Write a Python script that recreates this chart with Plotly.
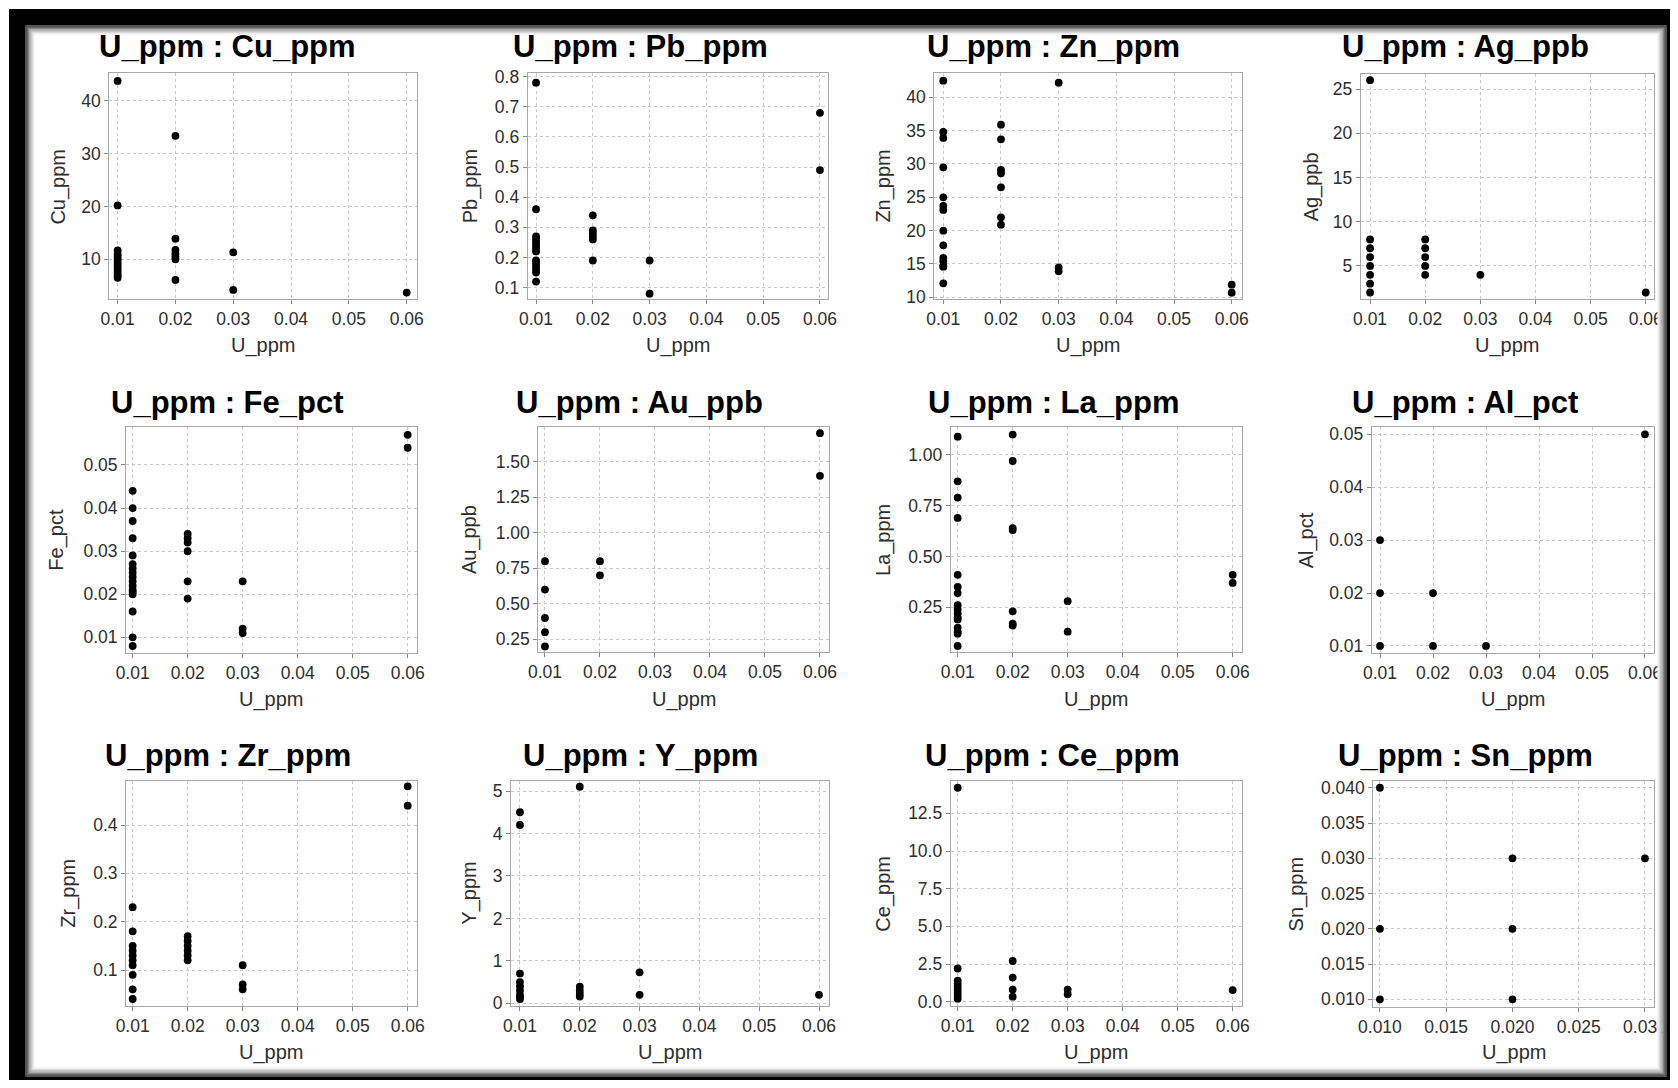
import plotly.graph_objects as go

VW, VH = 1678, 1088          # browser viewport
OFF = 8                      # default body margin of the html page
W, H = VW - 2 * OFF, VH - 2 * OFF

# ---------------- data ----------------
cu_x = [0.01]*13 + [0.02]*7 + [0.03]*2 + [0.06]
cu_y = [43.8, 20.2, 11.7, 11.0, 10.5, 10.0, 9.5, 9.0, 8.5, 8.0, 7.5, 7.0, 6.5,
        33.4, 13.9, 11.8, 11.1, 10.5, 10.0, 6.1,
        11.3, 4.2,
        3.7]

pb_x = [0.01]*14 + [0.02]*6 + [0.03]*2 + [0.06]*2
pb_y = [0.78, 0.36, 0.27, 0.26, 0.25, 0.24, 0.23, 0.22, 0.19, 0.18, 0.17, 0.16, 0.15, 0.12,
        0.34, 0.29, 0.28, 0.27, 0.26, 0.19,
        0.19, 0.08,
        0.68, 0.49]

zn_x = [0.01]*14 + [0.02]*7 + [0.03]*3 + [0.06]*2
zn_y = [42.5, 34.8, 33.9, 29.5, 25.0, 23.7, 23.1, 20.0, 17.8, 15.9, 15.4, 14.7, 14.6, 12.1,
        35.9, 33.7, 29.1, 28.6, 26.5, 22.0, 20.9,
        42.2, 14.5, 13.9,
        11.9, 10.7]

ag_x = [0.01]*8 + [0.02]*5 + [0.03] + [0.06]
ag_y = [26, 8, 7, 6, 5, 4, 3, 2,
        8, 7, 6, 5, 4,
        4,
        2]

fe_x = [0.01]*17 + [0.02]*6 + [0.03]*3 + [0.06]*2
fe_y = [0.044, 0.040, 0.037, 0.033, 0.029, 0.027, 0.026, 0.025, 0.024, 0.023, 0.022, 0.021, 0.020,
        0.016, 0.010, 0.008, 0.0205,
        0.034, 0.033, 0.032, 0.030, 0.023, 0.019,
        0.023, 0.012, 0.011,
        0.057, 0.054]

au_x = [0.01]*5 + [0.02]*2 + [0.06]*2
au_y = [0.8, 0.6, 0.4, 0.3, 0.2,
        0.8, 0.7,
        1.7, 1.4]

la_x = [0.01]*16 + [0.02]*7 + [0.03]*2 + [0.06]*2
la_y = [1.09, 0.87, 0.79, 0.69, 0.41, 0.35, 0.32, 0.26, 0.24, 0.22, 0.20, 0.19, 0.15, 0.13, 0.12, 0.06,
        1.10, 0.97, 0.64, 0.63, 0.23, 0.17, 0.16,
        0.28, 0.13,
        0.41, 0.37]

al_x = [0.01, 0.01, 0.01, 0.02, 0.02, 0.03, 0.06]
al_y = [0.03, 0.02, 0.01, 0.02, 0.01, 0.01, 0.05]

zr_x = [0.01]*10 + [0.02]*6 + [0.03]*3 + [0.06]*2
zr_y = [0.23, 0.18, 0.15, 0.14, 0.13, 0.12, 0.11, 0.09, 0.06, 0.04,
        0.17, 0.16, 0.15, 0.14, 0.13, 0.12,
        0.11, 0.07, 0.06,
        0.48, 0.44]

y_x = [0.01]*9 + [0.02]*5 + [0.03]*2 + [0.06]
y_y = [4.5, 4.2, 0.7, 0.5, 0.4, 0.3, 0.2, 0.15, 0.1,
       5.1, 0.39, 0.3, 0.22, 0.16,
       0.73, 0.2,
       0.2]

ce_x = [0.01]*9 + [0.02]*4 + [0.03]*2 + [0.06]
ce_y = [14.2, 2.2, 1.4, 1.2, 1.0, 0.8, 0.6, 0.4, 0.2,
        2.7, 1.6, 0.8, 0.33,
        0.8, 0.5,
        0.77]

sn_x = [0.01, 0.01, 0.01, 0.02, 0.02, 0.02, 0.03]
sn_y = [0.040, 0.020, 0.010, 0.030, 0.020, 0.010, 0.030]

titles = ["U_ppm : Cu_ppm", "U_ppm : Pb_ppm", "U_ppm : Zn_ppm", "U_ppm : Ag_ppb",
          "U_ppm : Fe_pct", "U_ppm : Au_ppb", "U_ppm : La_ppm", "U_ppm : Al_pct",
          "U_ppm : Zr_ppm", "U_ppm : Y_ppm", "U_ppm : Ce_ppm", "U_ppm : Sn_ppm"]
y_labels = ["Cu_ppm", "Pb_ppm", "Zn_ppm", "Ag_ppb", "Fe_pct", "Au_ppb",
            "La_ppm", "Al_pct", "Zr_ppm", "Y_ppm", "Ce_ppm", "Sn_ppm"]
x_label = "U_ppm"

xs = [cu_x, pb_x, zn_x, ag_x, fe_x, au_x, la_x, al_x, zr_x, y_x, ce_x, sn_x]
ys = [cu_y, pb_y, zn_y, ag_y, fe_y, au_y, la_y, al_y, zr_y, y_y, ce_y, sn_y]

# ---------------- layout (pixel geometry in viewport px) ----------------
boxes = [  # left, right, top, bottom
    (109.3, 416.7, 73.3, 299.3), (527.7, 828.3, 73.3, 299.3),
    (934.3, 1241.7, 73.3, 299.3), (1360.7, 1654.0, 74.0, 299.3),
    (126.0, 416.7, 427.3, 652.7), (538.3, 829.0, 427.3, 652.3),
    (950.7, 1241.7, 427.3, 652.3), (1371.7, 1654.0, 427.3, 653.3),
    (126.0, 416.7, 780.7, 1006.0), (511.0, 829.0, 780.7, 1006.0),
    (950.7, 1241.7, 780.7, 1006.0), (1373.3, 1654.0, 780.7, 1006.7),
]
x_ranges = [(0.00856, 0.06173), (0.00853, 0.06147), (0.00844, 0.06173), (0.0083, 0.0615),
            (0.00879, 0.06164), (0.00879, 0.06164), (0.00873, 0.06164), (0.00843, 0.0617),
            (0.00879, 0.06164), (0.0085, 0.06167), (0.00873, 0.06164), (0.0095, 0.03068)]
y_ranges = [(2.42, 45.24), (0.0613, 0.811), (9.7, 43.6), (1.23, 26.7),
            (0.00644, 0.05874), (0.1585, 1.7416), (0.0284, 1.136), (0.00861, 0.05132),
            (0.0255, 0.4917), (-0.063, 5.243), (-0.288, 14.668), (0.00896, 0.041)]
y_dticks = [10, 0.1, 5, 5, 0.01, 0.25, 0.25, 0.01, 0.1, 1, 2.5, 0.005]
y_formats = ["d", ".1f", "d", "d", ".2f", ".2f", ".2f", ".2f", ".1f", "d", ".1f", ".3f"]
x_dticks = [0.01]*11 + [0.005]
x_formats = [".2f"]*11 + [".3f"]
title_cx = [227.5, 640, 1053, 1465, 227.5, 639.5, 1053, 1465, 228, 640, 1052, 1465]
title_cy = [47, 47, 47, 47, 402, 402, 402, 402, 755, 755, 755, 755]
ylab_cx = [58.3, 470, 883.3, 1311.7, 56.7, 469.3, 883.3, 1306, 68.3, 469.3, 883.3, 1296.7]
xlab_cy = [345.7]*4 + [699.6]*4 + [1052.5]*4


def px(x):
    return (x - OFF) / W


def py(y):
    return 1 - (y - OFF) / H


FONT = "Arial, 'Liberation Sans', sans-serif"
TICKC = "#2e2e2e"

fig = go.Figure()
layout = dict(width=W, height=H, margin=dict(l=0, r=0, t=0, b=0, pad=0, autoexpand=False),
              paper_bgcolor="white", plot_bgcolor="white", showlegend=False,
              font=dict(family=FONT, color=TICKC))
annotations = []

for i in range(12):
    n = "" if i == 0 else str(i + 1)
    L, R, T, B = boxes[i]
    fig.add_trace(go.Scatter(x=xs[i], y=ys[i], mode="markers", xaxis="x" + n, yaxis="y" + n,
                             marker=dict(color="black", size=7.8), hoverinfo="x+y"))
    common = dict(showline=True, mirror=True, linecolor="#a8a8a8", linewidth=1,
                  showgrid=True, gridcolor="#c8c8c8", griddash="dot", gridwidth=1,
                  zeroline=False, ticks="outside", ticklen=4, tickcolor="#888888",
                  automargin=False,
                  tickfont=dict(family=FONT, size=17.5, color=TICKC))
    layout["xaxis" + n] = dict(common, domain=[px(L), px(R)], range=list(x_ranges[i]),
                               anchor="y" + n, tick0=0, dtick=x_dticks[i],
                               tickformat=x_formats[i])
    layout["yaxis" + n] = dict(common, domain=[py(B), py(T)], range=list(y_ranges[i]),
                               anchor="x" + n, tick0=0, dtick=y_dticks[i],
                               tickformat=y_formats[i])
    annotations.append(dict(text="<b>%s</b>" % titles[i], x=px(title_cx[i]), y=py(title_cy[i]),
                            xref="paper", yref="paper", xanchor="center", yanchor="middle",
                            showarrow=False, font=dict(family=FONT, size=31, color="black")))
    annotations.append(dict(text=x_label, x=px((L + R) / 2), y=py(xlab_cy[i]),
                            xref="paper", yref="paper", xanchor="center", yanchor="middle",
                            showarrow=False, font=dict(family=FONT, size=20, color=TICKC)))
    annotations.append(dict(text=y_labels[i], x=px(ylab_cx[i]), y=py((T + B) / 2),
                            xref="paper", yref="paper", xanchor="center", yanchor="middle",
                            textangle=-90, showarrow=False,
                            font=dict(family=FONT, size=20, color=TICKC)))

layout["annotations"] = annotations

# ---------------- outer frame with inner shadow ----------------
shapes = []


def rect(x0, y0, x1, y1, color):
    shapes.append(dict(type="rect", xref="paper", yref="paper",
                       x0=px(x0), x1=px(x1), y0=py(y1), y1=py(y0),
                       line=dict(width=0), fillcolor=color, layer="above"))


shadow = ["#303030", "#4c4c4c", "#686868", "#858585", "#a2a2a2", "#bebebe", "#d8d8d8", "#eeeeee"]
iL, iT, iR, iB = 25, 25, 1667, 1077
for k, col in enumerate(shadow):
    d = k * 1.25
    shapes.append(dict(type="rect", xref="paper", yref="paper",
                       x0=px(iL + d), x1=px(iR - d), y0=py(iB - d), y1=py(iT + d),
                       line=dict(color=col, width=1.6), fillcolor="rgba(0,0,0,0)", layer="above"))
rect(9, 9, 25, 1084, "#000000")       # left
rect(9, 9, 1675, 25, "#000000")       # top
rect(1667, 9, 1675, 1084, "#000000")  # right
rect(9, 1077, 1675, 1084, "#000000")  # bottom
layout["shapes"] = shapes

fig.update_layout(**layout)
fig.write_html("out.html")
